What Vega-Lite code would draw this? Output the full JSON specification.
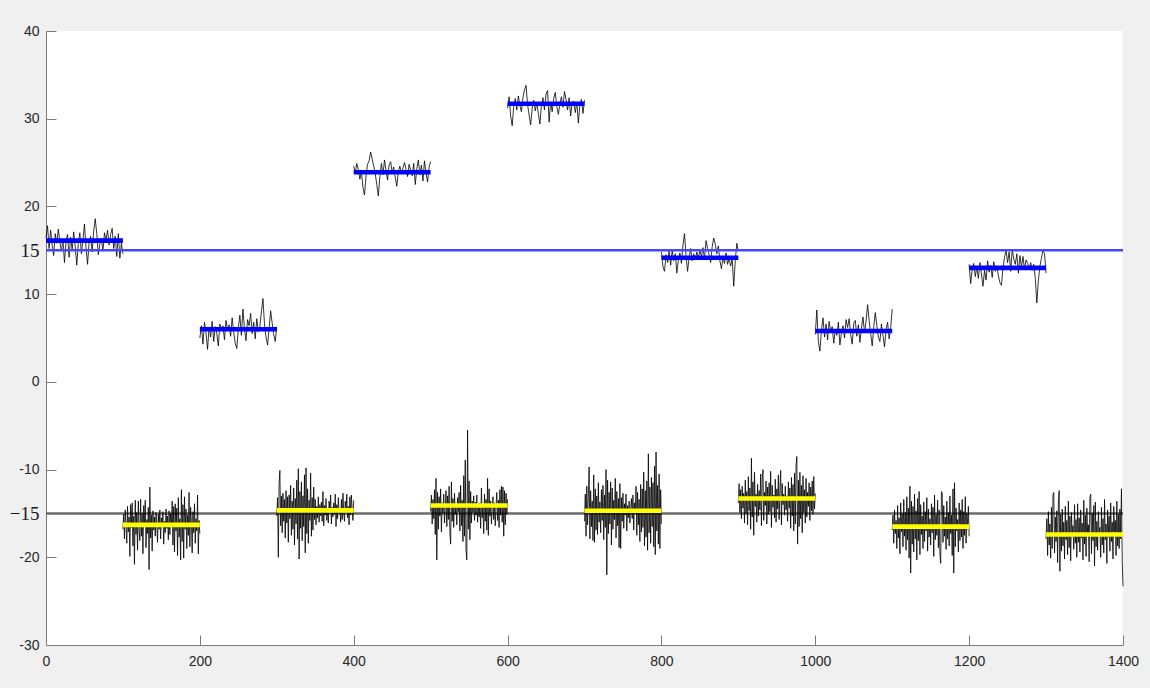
{
  "$schema": "https://vega.github.io/schema/vega-lite/v6.json",
  "width": 1077,
  "height": 614,
  "autosize": {"type": "none"},
  "padding": {"left": 46, "top": 31, "right": 27, "bottom": 43},
  "background": "#f0f0f0",
  "config": {
    "view": {"fill": "white", "stroke": null},
    "axis": {
      "grid": false,
      "domainColor": "#7a7a7a",
      "tickColor": "#7a7a7a",
      "domainWidth": 1,
      "tickWidth": 1,
      "tickSize": -10,
      "labelFont": "Liberation Sans",
      "labelFontSize": 14,
      "labelColor": "#262626",
      "title": null
    }
  },
  "datasets": {
    "noise": [
      {"s":"u0","x":0,"y":16.4},{"s":"u0","x":2,"y":17.8},{"s":"u0","x":4,"y":15.2},{"s":"u0","x":6,"y":17.3},{"s":"u0","x":8,"y":15.6},{"s":"u0","x":10,"y":14.4},{"s":"u0","x":12,"y":16.9},{"s":"u0","x":14,"y":15.8},{"s":"u0","x":16,"y":17.4},{"s":"u0","x":18,"y":16.0},{"s":"u0","x":20,"y":14.9},{"s":"u0","x":22,"y":16.3},{"s":"u0","x":24,"y":13.6},{"s":"u0","x":26,"y":15.9},{"s":"u0","x":28,"y":16.8},{"s":"u0","x":30,"y":14.2},{"s":"u0","x":32,"y":16.5},{"s":"u0","x":34,"y":15.1},{"s":"u0","x":36,"y":17.1},{"s":"u0","x":38,"y":15.4},{"s":"u0","x":40,"y":13.3},{"s":"u0","x":42,"y":15.8},{"s":"u0","x":44,"y":17.0},{"s":"u0","x":46,"y":14.6},{"s":"u0","x":48,"y":16.2},{"s":"u0","x":50,"y":18.0},{"s":"u0","x":52,"y":15.3},{"s":"u0","x":54,"y":13.4},{"s":"u0","x":56,"y":15.9},{"s":"u0","x":58,"y":16.6},{"s":"u0","x":60,"y":14.8},{"s":"u0","x":62,"y":17.2},{"s":"u0","x":64,"y":18.6},{"s":"u0","x":66,"y":16.9},{"s":"u0","x":68,"y":14.5},{"s":"u0","x":70,"y":15.7},{"s":"u0","x":72,"y":16.4},{"s":"u0","x":74,"y":14.9},{"s":"u0","x":76,"y":17.0},{"s":"u0","x":78,"y":16.1},{"s":"u0","x":80,"y":17.3},{"s":"u0","x":82,"y":15.6},{"s":"u0","x":84,"y":16.8},{"s":"u0","x":86,"y":17.5},{"s":"u0","x":88,"y":15.2},{"s":"u0","x":90,"y":16.6},{"s":"u0","x":92,"y":14.3},{"s":"u0","x":94,"y":16.9},{"s":"u0","x":96,"y":14.1},{"s":"u0","x":98,"y":15.8},{"s":"u0","x":100,"y":14.6},
      {"s":"u1","x":200,"y":5.0},{"s":"u1","x":202,"y":6.4},{"s":"u1","x":204,"y":4.3},{"s":"u1","x":206,"y":6.8},{"s":"u1","x":208,"y":5.6},{"s":"u1","x":210,"y":3.7},{"s":"u1","x":212,"y":6.2},{"s":"u1","x":214,"y":5.1},{"s":"u1","x":216,"y":6.9},{"s":"u1","x":218,"y":4.6},{"s":"u1","x":220,"y":6.3},{"s":"u1","x":222,"y":5.5},{"s":"u1","x":224,"y":4.1},{"s":"u1","x":226,"y":6.6},{"s":"u1","x":228,"y":5.8},{"s":"u1","x":230,"y":6.4},{"s":"u1","x":232,"y":4.8},{"s":"u1","x":234,"y":7.0},{"s":"u1","x":236,"y":5.9},{"s":"u1","x":238,"y":6.5},{"s":"u1","x":240,"y":5.2},{"s":"u1","x":242,"y":7.3},{"s":"u1","x":244,"y":5.6},{"s":"u1","x":246,"y":4.4},{"s":"u1","x":248,"y":3.8},{"s":"u1","x":250,"y":6.1},{"s":"u1","x":252,"y":7.6},{"s":"u1","x":254,"y":5.3},{"s":"u1","x":256,"y":8.3},{"s":"u1","x":258,"y":6.0},{"s":"u1","x":260,"y":4.7},{"s":"u1","x":262,"y":7.1},{"s":"u1","x":264,"y":6.4},{"s":"u1","x":266,"y":7.8},{"s":"u1","x":268,"y":5.5},{"s":"u1","x":270,"y":6.8},{"s":"u1","x":272,"y":4.9},{"s":"u1","x":274,"y":7.2},{"s":"u1","x":276,"y":5.7},{"s":"u1","x":278,"y":6.3},{"s":"u1","x":280,"y":8.0},{"s":"u1","x":282,"y":9.5},{"s":"u1","x":284,"y":6.6},{"s":"u1","x":286,"y":5.1},{"s":"u1","x":288,"y":4.2},{"s":"u1","x":290,"y":6.0},{"s":"u1","x":292,"y":8.1},{"s":"u1","x":294,"y":6.7},{"s":"u1","x":296,"y":5.4},{"s":"u1","x":298,"y":4.6},{"s":"u1","x":300,"y":6.3},
      {"s":"u2","x":400,"y":24.6},{"s":"u2","x":402,"y":23.8},{"s":"u2","x":404,"y":24.9},{"s":"u2","x":406,"y":24.2},{"s":"u2","x":408,"y":23.1},{"s":"u2","x":410,"y":24.0},{"s":"u2","x":412,"y":22.2},{"s":"u2","x":414,"y":21.3},{"s":"u2","x":416,"y":23.5},{"s":"u2","x":418,"y":24.8},{"s":"u2","x":420,"y":25.2},{"s":"u2","x":422,"y":26.2},{"s":"u2","x":424,"y":25.4},{"s":"u2","x":426,"y":24.6},{"s":"u2","x":428,"y":23.7},{"s":"u2","x":430,"y":22.5},{"s":"u2","x":432,"y":21.2},{"s":"u2","x":434,"y":23.4},{"s":"u2","x":436,"y":24.9},{"s":"u2","x":438,"y":23.6},{"s":"u2","x":440,"y":25.3},{"s":"u2","x":442,"y":24.1},{"s":"u2","x":444,"y":23.0},{"s":"u2","x":446,"y":24.7},{"s":"u2","x":448,"y":25.1},{"s":"u2","x":450,"y":23.9},{"s":"u2","x":452,"y":24.5},{"s":"u2","x":454,"y":23.3},{"s":"u2","x":456,"y":22.3},{"s":"u2","x":458,"y":24.0},{"s":"u2","x":460,"y":24.6},{"s":"u2","x":462,"y":23.7},{"s":"u2","x":464,"y":24.4},{"s":"u2","x":466,"y":25.0},{"s":"u2","x":468,"y":24.2},{"s":"u2","x":470,"y":23.4},{"s":"u2","x":472,"y":24.8},{"s":"u2","x":474,"y":24.1},{"s":"u2","x":476,"y":23.5},{"s":"u2","x":478,"y":24.9},{"s":"u2","x":480,"y":22.5},{"s":"u2","x":482,"y":24.3},{"s":"u2","x":484,"y":25.3},{"s":"u2","x":486,"y":23.6},{"s":"u2","x":488,"y":24.7},{"s":"u2","x":490,"y":22.9},{"s":"u2","x":492,"y":25.2},{"s":"u2","x":494,"y":23.8},{"s":"u2","x":496,"y":22.8},{"s":"u2","x":498,"y":24.5},{"s":"u2","x":500,"y":25.1},
      {"s":"u3","x":600,"y":31.2},{"s":"u3","x":602,"y":32.5},{"s":"u3","x":604,"y":30.3},{"s":"u3","x":606,"y":29.2},{"s":"u3","x":608,"y":31.4},{"s":"u3","x":610,"y":32.3},{"s":"u3","x":612,"y":31.0},{"s":"u3","x":614,"y":32.6},{"s":"u3","x":616,"y":31.5},{"s":"u3","x":618,"y":30.8},{"s":"u3","x":620,"y":32.4},{"s":"u3","x":622,"y":33.3},{"s":"u3","x":624,"y":33.8},{"s":"u3","x":626,"y":31.6},{"s":"u3","x":628,"y":30.4},{"s":"u3","x":630,"y":29.3},{"s":"u3","x":632,"y":31.2},{"s":"u3","x":634,"y":32.1},{"s":"u3","x":636,"y":30.9},{"s":"u3","x":638,"y":31.8},{"s":"u3","x":640,"y":30.6},{"s":"u3","x":642,"y":29.4},{"s":"u3","x":644,"y":31.5},{"s":"u3","x":646,"y":32.4},{"s":"u3","x":648,"y":31.0},{"s":"u3","x":650,"y":32.8},{"s":"u3","x":652,"y":33.2},{"s":"u3","x":654,"y":29.6},{"s":"u3","x":656,"y":31.9},{"s":"u3","x":658,"y":30.8},{"s":"u3","x":660,"y":32.3},{"s":"u3","x":662,"y":33.0},{"s":"u3","x":664,"y":31.4},{"s":"u3","x":666,"y":30.5},{"s":"u3","x":668,"y":31.7},{"s":"u3","x":670,"y":32.5},{"s":"u3","x":672,"y":31.3},{"s":"u3","x":674,"y":33.1},{"s":"u3","x":676,"y":32.2},{"s":"u3","x":678,"y":31.0},{"s":"u3","x":680,"y":32.4},{"s":"u3","x":682,"y":30.3},{"s":"u3","x":684,"y":31.8},{"s":"u3","x":686,"y":32.0},{"s":"u3","x":688,"y":30.7},{"s":"u3","x":690,"y":31.9},{"s":"u3","x":692,"y":29.5},{"s":"u3","x":694,"y":31.6},{"s":"u3","x":696,"y":32.2},{"s":"u3","x":698,"y":30.6},{"s":"u3","x":700,"y":32.1},
      {"s":"u4","x":800,"y":14.8},{"s":"u4","x":802,"y":13.1},{"s":"u4","x":804,"y":12.6},{"s":"u4","x":806,"y":14.5},{"s":"u4","x":808,"y":13.6},{"s":"u4","x":810,"y":14.9},{"s":"u4","x":812,"y":13.3},{"s":"u4","x":814,"y":15.0},{"s":"u4","x":816,"y":13.8},{"s":"u4","x":818,"y":14.6},{"s":"u4","x":820,"y":12.4},{"s":"u4","x":822,"y":13.9},{"s":"u4","x":824,"y":14.7},{"s":"u4","x":826,"y":13.5},{"s":"u4","x":828,"y":15.6},{"s":"u4","x":830,"y":16.9},{"s":"u4","x":832,"y":14.4},{"s":"u4","x":834,"y":12.6},{"s":"u4","x":836,"y":14.2},{"s":"u4","x":838,"y":15.2},{"s":"u4","x":840,"y":13.8},{"s":"u4","x":842,"y":14.6},{"s":"u4","x":844,"y":13.9},{"s":"u4","x":846,"y":14.8},{"s":"u4","x":848,"y":14.1},{"s":"u4","x":850,"y":15.0},{"s":"u4","x":852,"y":14.3},{"s":"u4","x":854,"y":15.3},{"s":"u4","x":856,"y":14.0},{"s":"u4","x":858,"y":16.1},{"s":"u4","x":860,"y":15.2},{"s":"u4","x":862,"y":14.5},{"s":"u4","x":864,"y":13.6},{"s":"u4","x":866,"y":15.4},{"s":"u4","x":868,"y":16.4},{"s":"u4","x":870,"y":15.7},{"s":"u4","x":872,"y":14.6},{"s":"u4","x":874,"y":15.5},{"s":"u4","x":876,"y":13.8},{"s":"u4","x":878,"y":12.9},{"s":"u4","x":880,"y":14.2},{"s":"u4","x":882,"y":13.5},{"s":"u4","x":884,"y":14.7},{"s":"u4","x":886,"y":13.4},{"s":"u4","x":888,"y":14.1},{"s":"u4","x":890,"y":13.2},{"s":"u4","x":892,"y":14.0},{"s":"u4","x":894,"y":10.9},{"s":"u4","x":896,"y":13.8},{"s":"u4","x":898,"y":15.8},{"s":"u4","x":900,"y":14.9},
      {"s":"u5","x":1000,"y":5.4},{"s":"u5","x":1002,"y":8.2},{"s":"u5","x":1004,"y":4.6},{"s":"u5","x":1006,"y":3.5},{"s":"u5","x":1008,"y":5.9},{"s":"u5","x":1010,"y":7.3},{"s":"u5","x":1012,"y":5.1},{"s":"u5","x":1014,"y":6.6},{"s":"u5","x":1016,"y":4.8},{"s":"u5","x":1018,"y":6.9},{"s":"u5","x":1020,"y":5.7},{"s":"u5","x":1022,"y":6.3},{"s":"u5","x":1024,"y":4.4},{"s":"u5","x":1026,"y":6.0},{"s":"u5","x":1028,"y":5.3},{"s":"u5","x":1030,"y":6.8},{"s":"u5","x":1032,"y":4.2},{"s":"u5","x":1034,"y":5.6},{"s":"u5","x":1036,"y":6.4},{"s":"u5","x":1038,"y":5.0},{"s":"u5","x":1040,"y":7.1},{"s":"u5","x":1042,"y":6.2},{"s":"u5","x":1044,"y":7.2},{"s":"u5","x":1046,"y":5.4},{"s":"u5","x":1048,"y":4.3},{"s":"u5","x":1050,"y":6.7},{"s":"u5","x":1052,"y":7.0},{"s":"u5","x":1054,"y":5.2},{"s":"u5","x":1056,"y":6.5},{"s":"u5","x":1058,"y":4.5},{"s":"u5","x":1060,"y":6.1},{"s":"u5","x":1062,"y":7.4},{"s":"u5","x":1064,"y":5.6},{"s":"u5","x":1066,"y":6.9},{"s":"u5","x":1068,"y":8.8},{"s":"u5","x":1070,"y":7.0},{"s":"u5","x":1072,"y":5.5},{"s":"u5","x":1074,"y":4.1},{"s":"u5","x":1076,"y":6.3},{"s":"u5","x":1078,"y":7.9},{"s":"u5","x":1080,"y":6.4},{"s":"u5","x":1082,"y":5.1},{"s":"u5","x":1084,"y":4.6},{"s":"u5","x":1086,"y":6.6},{"s":"u5","x":1088,"y":5.3},{"s":"u5","x":1090,"y":4.0},{"s":"u5","x":1092,"y":5.9},{"s":"u5","x":1094,"y":6.8},{"s":"u5","x":1096,"y":4.9},{"s":"u5","x":1098,"y":6.2},{"s":"u5","x":1100,"y":8.3},
      {"s":"u6","x":1200,"y":13.4},{"s":"u6","x":1202,"y":11.2},{"s":"u6","x":1204,"y":12.8},{"s":"u6","x":1206,"y":13.5},{"s":"u6","x":1208,"y":12.0},{"s":"u6","x":1210,"y":13.1},{"s":"u6","x":1212,"y":11.8},{"s":"u6","x":1214,"y":13.6},{"s":"u6","x":1216,"y":12.3},{"s":"u6","x":1218,"y":10.9},{"s":"u6","x":1220,"y":12.7},{"s":"u6","x":1222,"y":11.6},{"s":"u6","x":1224,"y":13.8},{"s":"u6","x":1226,"y":12.5},{"s":"u6","x":1228,"y":13.3},{"s":"u6","x":1230,"y":11.9},{"s":"u6","x":1232,"y":13.7},{"s":"u6","x":1234,"y":12.6},{"s":"u6","x":1236,"y":13.2},{"s":"u6","x":1238,"y":12.1},{"s":"u6","x":1240,"y":11.3},{"s":"u6","x":1242,"y":11.0},{"s":"u6","x":1244,"y":13.0},{"s":"u6","x":1246,"y":14.2},{"s":"u6","x":1248,"y":15.0},{"s":"u6","x":1250,"y":13.6},{"s":"u6","x":1252,"y":14.8},{"s":"u6","x":1254,"y":12.6},{"s":"u6","x":1256,"y":15.1},{"s":"u6","x":1258,"y":14.0},{"s":"u6","x":1260,"y":13.4},{"s":"u6","x":1262,"y":14.6},{"s":"u6","x":1264,"y":12.4},{"s":"u6","x":1266,"y":14.4},{"s":"u6","x":1268,"y":13.1},{"s":"u6","x":1270,"y":14.3},{"s":"u6","x":1272,"y":12.8},{"s":"u6","x":1274,"y":13.9},{"s":"u6","x":1276,"y":13.5},{"s":"u6","x":1278,"y":12.9},{"s":"u6","x":1280,"y":13.6},{"s":"u6","x":1282,"y":12.7},{"s":"u6","x":1284,"y":13.4},{"s":"u6","x":1286,"y":11.8},{"s":"u6","x":1288,"y":9.0},{"s":"u6","x":1290,"y":11.6},{"s":"u6","x":1292,"y":13.2},{"s":"u6","x":1294,"y":14.1},{"s":"u6","x":1296,"y":15.0},{"s":"u6","x":1298,"y":14.6},{"s":"u6","x":1300,"y":12.4},
      {"s":"l0","x":100,"y":-16.8},{"s":"l0","x":101,"y":-15.1},{"s":"l0","x":102,"y":-17.9},{"s":"l0","x":103,"y":-14.6},{"s":"l0","x":104,"y":-16.2},{"s":"l0","x":105,"y":-18.4},{"s":"l0","x":106,"y":-14.2},{"s":"l0","x":107,"y":-17.1},{"s":"l0","x":108,"y":-15.4},{"s":"l0","x":109,"y":-19.9},{"s":"l0","x":110,"y":-14.0},{"s":"l0","x":111,"y":-16.6},{"s":"l0","x":112,"y":-13.8},{"s":"l0","x":113,"y":-18.7},{"s":"l0","x":114,"y":-15.3},{"s":"l0","x":115,"y":-20.8},{"s":"l0","x":116,"y":-13.5},{"s":"l0","x":117,"y":-17.4},{"s":"l0","x":118,"y":-14.9},{"s":"l0","x":119,"y":-19.2},{"s":"l0","x":120,"y":-13.6},{"s":"l0","x":121,"y":-16.9},{"s":"l0","x":122,"y":-18.1},{"s":"l0","x":123,"y":-13.4},{"s":"l0","x":124,"y":-17.6},{"s":"l0","x":125,"y":-15.0},{"s":"l0","x":126,"y":-19.6},{"s":"l0","x":127,"y":-14.1},{"s":"l0","x":128,"y":-16.4},{"s":"l0","x":129,"y":-13.5},{"s":"l0","x":130,"y":-18.9},{"s":"l0","x":131,"y":-15.7},{"s":"l0","x":132,"y":-17.3},{"s":"l0","x":133,"y":-14.3},{"s":"l0","x":134,"y":-21.4},{"s":"l0","x":135,"y":-12.0},{"s":"l0","x":136,"y":-17.8},{"s":"l0","x":137,"y":-15.2},{"s":"l0","x":138,"y":-19.3},{"s":"l0","x":139,"y":-14.7},{"s":"l0","x":140,"y":-16.9},{"s":"l0","x":141,"y":-15.4},{"s":"l0","x":142,"y":-17.6},{"s":"l0","x":143,"y":-14.9},{"s":"l0","x":144,"y":-16.2},{"s":"l0","x":145,"y":-18.3},{"s":"l0","x":146,"y":-15.1},{"s":"l0","x":147,"y":-16.8},{"s":"l0","x":148,"y":-14.6},{"s":"l0","x":149,"y":-17.9},{"s":"l0","x":150,"y":-15.5},{"s":"l0","x":151,"y":-16.3},{"s":"l0","x":152,"y":-14.8},{"s":"l0","x":153,"y":-18.5},{"s":"l0","x":154,"y":-15.9},{"s":"l0","x":155,"y":-17.2},{"s":"l0","x":156,"y":-14.5},{"s":"l0","x":157,"y":-16.7},{"s":"l0","x":158,"y":-15.3},{"s":"l0","x":159,"y":-18.0},{"s":"l0","x":160,"y":-14.7},{"s":"l0","x":161,"y":-17.4},{"s":"l0","x":162,"y":-15.0},{"s":"l0","x":163,"y":-16.5},{"s":"l0","x":164,"y":-13.6},{"s":"l0","x":165,"y":-18.6},{"s":"l0","x":166,"y":-14.2},{"s":"l0","x":167,"y":-19.4},{"s":"l0","x":168,"y":-13.9},{"s":"l0","x":169,"y":-17.0},{"s":"l0","x":170,"y":-14.4},{"s":"l0","x":171,"y":-19.8},{"s":"l0","x":172,"y":-13.2},{"s":"l0","x":173,"y":-17.7},{"s":"l0","x":174,"y":-15.6},{"s":"l0","x":175,"y":-20.3},{"s":"l0","x":176,"y":-12.3},{"s":"l0","x":177,"y":-18.2},{"s":"l0","x":178,"y":-14.0},{"s":"l0","x":179,"y":-20.1},{"s":"l0","x":180,"y":-13.1},{"s":"l0","x":181,"y":-16.8},{"s":"l0","x":182,"y":-14.5},{"s":"l0","x":183,"y":-19.0},{"s":"l0","x":184,"y":-15.2},{"s":"l0","x":185,"y":-17.5},{"s":"l0","x":186,"y":-12.6},{"s":"l0","x":187,"y":-18.8},{"s":"l0","x":188,"y":-14.3},{"s":"l0","x":189,"y":-16.1},{"s":"l0","x":190,"y":-19.5},{"s":"l0","x":191,"y":-14.8},{"s":"l0","x":192,"y":-17.2},{"s":"l0","x":193,"y":-13.9},{"s":"l0","x":194,"y":-18.4},{"s":"l0","x":195,"y":-15.6},{"s":"l0","x":196,"y":-17.0},{"s":"l0","x":197,"y":-12.9},{"s":"l0","x":198,"y":-19.6},{"s":"l0","x":199,"y":-15.8},{"s":"l0","x":200,"y":-17.3},
      {"s":"l1","x":300,"y":-15.3},{"s":"l1","x":301,"y":-13.2},{"s":"l1","x":302,"y":-20.0},{"s":"l1","x":303,"y":-11.6},{"s":"l1","x":304,"y":-10.1},{"s":"l1","x":305,"y":-16.4},{"s":"l1","x":306,"y":-13.0},{"s":"l1","x":307,"y":-17.2},{"s":"l1","x":308,"y":-12.7},{"s":"l1","x":309,"y":-15.9},{"s":"l1","x":310,"y":-13.4},{"s":"l1","x":311,"y":-17.8},{"s":"l1","x":312,"y":-12.4},{"s":"l1","x":313,"y":-16.1},{"s":"l1","x":314,"y":-13.1},{"s":"l1","x":315,"y":-18.3},{"s":"l1","x":316,"y":-12.9},{"s":"l1","x":317,"y":-15.6},{"s":"l1","x":318,"y":-11.8},{"s":"l1","x":319,"y":-17.5},{"s":"l1","x":320,"y":-13.6},{"s":"l1","x":321,"y":-16.8},{"s":"l1","x":322,"y":-12.1},{"s":"l1","x":323,"y":-18.6},{"s":"l1","x":324,"y":-13.3},{"s":"l1","x":325,"y":-16.2},{"s":"l1","x":326,"y":-11.2},{"s":"l1","x":327,"y":-17.9},{"s":"l1","x":328,"y":-9.9},{"s":"l1","x":329,"y":-20.2},{"s":"l1","x":330,"y":-12.5},{"s":"l1","x":331,"y":-16.7},{"s":"l1","x":332,"y":-11.4},{"s":"l1","x":333,"y":-18.1},{"s":"l1","x":334,"y":-13.0},{"s":"l1","x":335,"y":-16.5},{"s":"l1","x":336,"y":-10.6},{"s":"l1","x":337,"y":-19.5},{"s":"l1","x":338,"y":-9.8},{"s":"l1","x":339,"y":-17.3},{"s":"l1","x":340,"y":-12.2},{"s":"l1","x":341,"y":-18.4},{"s":"l1","x":342,"y":-13.5},{"s":"l1","x":343,"y":-15.8},{"s":"l1","x":344,"y":-10.4},{"s":"l1","x":345,"y":-17.6},{"s":"l1","x":346,"y":-13.2},{"s":"l1","x":347,"y":-16.9},{"s":"l1","x":348,"y":-12.0},{"s":"l1","x":349,"y":-15.7},{"s":"l1","x":350,"y":-13.4},{"s":"l1","x":351,"y":-16.3},{"s":"l1","x":352,"y":-14.2},{"s":"l1","x":353,"y":-15.5},{"s":"l1","x":354,"y":-13.1},{"s":"l1","x":355,"y":-16.0},{"s":"l1","x":356,"y":-14.0},{"s":"l1","x":357,"y":-15.3},{"s":"l1","x":358,"y":-13.7},{"s":"l1","x":359,"y":-15.9},{"s":"l1","x":360,"y":-12.5},{"s":"l1","x":361,"y":-16.4},{"s":"l1","x":362,"y":-14.1},{"s":"l1","x":363,"y":-15.2},{"s":"l1","x":364,"y":-13.3},{"s":"l1","x":365,"y":-15.8},{"s":"l1","x":366,"y":-14.4},{"s":"l1","x":367,"y":-16.1},{"s":"l1","x":368,"y":-13.6},{"s":"l1","x":369,"y":-14.9},{"s":"l1","x":370,"y":-12.9},{"s":"l1","x":371,"y":-16.2},{"s":"l1","x":372,"y":-14.3},{"s":"l1","x":373,"y":-15.4},{"s":"l1","x":374,"y":-13.8},{"s":"l1","x":375,"y":-15.1},{"s":"l1","x":376,"y":-12.8},{"s":"l1","x":377,"y":-16.5},{"s":"l1","x":378,"y":-14.0},{"s":"l1","x":379,"y":-15.6},{"s":"l1","x":380,"y":-13.2},{"s":"l1","x":381,"y":-15.0},{"s":"l1","x":382,"y":-14.5},{"s":"l1","x":383,"y":-16.0},{"s":"l1","x":384,"y":-13.4},{"s":"l1","x":385,"y":-15.7},{"s":"l1","x":386,"y":-12.7},{"s":"l1","x":387,"y":-14.8},{"s":"l1","x":388,"y":-15.9},{"s":"l1","x":389,"y":-13.6},{"s":"l1","x":390,"y":-14.9},{"s":"l1","x":391,"y":-12.8},{"s":"l1","x":392,"y":-15.5},{"s":"l1","x":393,"y":-14.2},{"s":"l1","x":394,"y":-16.3},{"s":"l1","x":395,"y":-13.1},{"s":"l1","x":396,"y":-15.2},{"s":"l1","x":397,"y":-12.9},{"s":"l1","x":398,"y":-14.7},{"s":"l1","x":399,"y":-15.8},{"s":"l1","x":400,"y":-13.5},
      {"s":"l2","x":500,"y":-14.8},{"s":"l2","x":501,"y":-12.9},{"s":"l2","x":502,"y":-16.2},{"s":"l2","x":503,"y":-13.4},{"s":"l2","x":504,"y":-15.6},{"s":"l2","x":505,"y":-12.3},{"s":"l2","x":506,"y":-17.4},{"s":"l2","x":507,"y":-11.0},{"s":"l2","x":508,"y":-20.3},{"s":"l2","x":509,"y":-12.6},{"s":"l2","x":510,"y":-16.8},{"s":"l2","x":511,"y":-13.1},{"s":"l2","x":512,"y":-15.3},{"s":"l2","x":513,"y":-12.2},{"s":"l2","x":514,"y":-17.1},{"s":"l2","x":515,"y":-13.8},{"s":"l2","x":516,"y":-15.0},{"s":"l2","x":517,"y":-12.8},{"s":"l2","x":518,"y":-16.1},{"s":"l2","x":519,"y":-14.2},{"s":"l2","x":520,"y":-12.4},{"s":"l2","x":521,"y":-16.5},{"s":"l2","x":522,"y":-13.0},{"s":"l2","x":523,"y":-15.7},{"s":"l2","x":524,"y":-11.9},{"s":"l2","x":525,"y":-17.2},{"s":"l2","x":526,"y":-18.5},{"s":"l2","x":527,"y":-11.4},{"s":"l2","x":528,"y":-15.9},{"s":"l2","x":529,"y":-13.3},{"s":"l2","x":530,"y":-16.6},{"s":"l2","x":531,"y":-12.7},{"s":"l2","x":532,"y":-15.1},{"s":"l2","x":533,"y":-13.9},{"s":"l2","x":534,"y":-16.3},{"s":"l2","x":535,"y":-13.2},{"s":"l2","x":536,"y":-14.8},{"s":"l2","x":537,"y":-12.6},{"s":"l2","x":538,"y":-17.0},{"s":"l2","x":539,"y":-11.8},{"s":"l2","x":540,"y":-16.4},{"s":"l2","x":541,"y":-13.5},{"s":"l2","x":542,"y":-18.2},{"s":"l2","x":543,"y":-10.7},{"s":"l2","x":544,"y":-17.6},{"s":"l2","x":545,"y":-8.9},{"s":"l2","x":546,"y":-19.1},{"s":"l2","x":547,"y":-20.3},{"s":"l2","x":548,"y":-5.5},{"s":"l2","x":549,"y":-16.8},{"s":"l2","x":550,"y":-11.3},{"s":"l2","x":551,"y":-18.0},{"s":"l2","x":552,"y":-12.5},{"s":"l2","x":553,"y":-16.1},{"s":"l2","x":554,"y":-13.6},{"s":"l2","x":555,"y":-14.9},{"s":"l2","x":556,"y":-13.0},{"s":"l2","x":557,"y":-15.8},{"s":"l2","x":558,"y":-13.7},{"s":"l2","x":559,"y":-15.2},{"s":"l2","x":560,"y":-12.9},{"s":"l2","x":561,"y":-16.0},{"s":"l2","x":562,"y":-14.3},{"s":"l2","x":563,"y":-15.4},{"s":"l2","x":564,"y":-13.8},{"s":"l2","x":565,"y":-16.7},{"s":"l2","x":566,"y":-12.1},{"s":"l2","x":567,"y":-15.5},{"s":"l2","x":568,"y":-14.0},{"s":"l2","x":569,"y":-17.3},{"s":"l2","x":570,"y":-12.8},{"s":"l2","x":571,"y":-15.9},{"s":"l2","x":572,"y":-13.4},{"s":"l2","x":573,"y":-16.9},{"s":"l2","x":574,"y":-11.0},{"s":"l2","x":575,"y":-17.5},{"s":"l2","x":576,"y":-12.2},{"s":"l2","x":577,"y":-15.3},{"s":"l2","x":578,"y":-13.6},{"s":"l2","x":579,"y":-16.2},{"s":"l2","x":580,"y":-14.4},{"s":"l2","x":581,"y":-13.1},{"s":"l2","x":582,"y":-15.7},{"s":"l2","x":583,"y":-13.8},{"s":"l2","x":584,"y":-16.4},{"s":"l2","x":585,"y":-14.1},{"s":"l2","x":586,"y":-12.6},{"s":"l2","x":587,"y":-15.8},{"s":"l2","x":588,"y":-13.5},{"s":"l2","x":589,"y":-16.6},{"s":"l2","x":590,"y":-12.3},{"s":"l2","x":591,"y":-15.2},{"s":"l2","x":592,"y":-11.9},{"s":"l2","x":593,"y":-16.0},{"s":"l2","x":594,"y":-12.0},{"s":"l2","x":595,"y":-17.6},{"s":"l2","x":596,"y":-12.4},{"s":"l2","x":597,"y":-16.3},{"s":"l2","x":598,"y":-12.7},{"s":"l2","x":599,"y":-15.1},{"s":"l2","x":600,"y":-13.4},
      {"s":"l3","x":700,"y":-15.9},{"s":"l3","x":701,"y":-12.8},{"s":"l3","x":702,"y":-17.6},{"s":"l3","x":703,"y":-11.9},{"s":"l3","x":704,"y":-16.3},{"s":"l3","x":705,"y":-13.1},{"s":"l3","x":706,"y":-9.7},{"s":"l3","x":707,"y":-17.9},{"s":"l3","x":708,"y":-12.4},{"s":"l3","x":709,"y":-16.5},{"s":"l3","x":710,"y":-13.6},{"s":"l3","x":711,"y":-18.1},{"s":"l3","x":712,"y":-10.6},{"s":"l3","x":713,"y":-18.3},{"s":"l3","x":714,"y":-12.2},{"s":"l3","x":715,"y":-16.9},{"s":"l3","x":716,"y":-13.0},{"s":"l3","x":717,"y":-17.4},{"s":"l3","x":718,"y":-11.5},{"s":"l3","x":719,"y":-16.0},{"s":"l3","x":720,"y":-13.7},{"s":"l3","x":721,"y":-17.2},{"s":"l3","x":722,"y":-12.3},{"s":"l3","x":723,"y":-15.8},{"s":"l3","x":724,"y":-11.8},{"s":"l3","x":725,"y":-18.0},{"s":"l3","x":726,"y":-12.9},{"s":"l3","x":727,"y":-16.6},{"s":"l3","x":728,"y":-10.0},{"s":"l3","x":729,"y":-22.0},{"s":"l3","x":730,"y":-11.2},{"s":"l3","x":731,"y":-17.3},{"s":"l3","x":732,"y":-12.6},{"s":"l3","x":733,"y":-16.2},{"s":"l3","x":734,"y":-11.4},{"s":"l3","x":735,"y":-18.6},{"s":"l3","x":736,"y":-12.1},{"s":"l3","x":737,"y":-16.8},{"s":"l3","x":738,"y":-13.5},{"s":"l3","x":739,"y":-15.7},{"s":"l3","x":740,"y":-11.0},{"s":"l3","x":741,"y":-17.8},{"s":"l3","x":742,"y":-12.5},{"s":"l3","x":743,"y":-16.4},{"s":"l3","x":744,"y":-13.3},{"s":"l3","x":745,"y":-18.9},{"s":"l3","x":746,"y":-11.6},{"s":"l3","x":747,"y":-19.0},{"s":"l3","x":748,"y":-13.2},{"s":"l3","x":749,"y":-15.9},{"s":"l3","x":750,"y":-12.7},{"s":"l3","x":751,"y":-16.7},{"s":"l3","x":752,"y":-13.9},{"s":"l3","x":753,"y":-15.2},{"s":"l3","x":754,"y":-12.8},{"s":"l3","x":755,"y":-17.0},{"s":"l3","x":756,"y":-14.1},{"s":"l3","x":757,"y":-15.5},{"s":"l3","x":758,"y":-13.6},{"s":"l3","x":759,"y":-16.1},{"s":"l3","x":760,"y":-14.5},{"s":"l3","x":761,"y":-13.3},{"s":"l3","x":762,"y":-15.6},{"s":"l3","x":763,"y":-12.9},{"s":"l3","x":764,"y":-16.9},{"s":"l3","x":765,"y":-13.8},{"s":"l3","x":766,"y":-15.0},{"s":"l3","x":767,"y":-11.9},{"s":"l3","x":768,"y":-17.5},{"s":"l3","x":769,"y":-12.6},{"s":"l3","x":770,"y":-16.3},{"s":"l3","x":771,"y":-13.4},{"s":"l3","x":772,"y":-18.2},{"s":"l3","x":773,"y":-11.7},{"s":"l3","x":774,"y":-17.1},{"s":"l3","x":775,"y":-12.2},{"s":"l3","x":776,"y":-16.6},{"s":"l3","x":777,"y":-10.3},{"s":"l3","x":778,"y":-18.7},{"s":"l3","x":779,"y":-12.4},{"s":"l3","x":780,"y":-17.7},{"s":"l3","x":781,"y":-11.3},{"s":"l3","x":782,"y":-19.2},{"s":"l3","x":783,"y":-8.2},{"s":"l3","x":784,"y":-17.2},{"s":"l3","x":785,"y":-12.0},{"s":"l3","x":786,"y":-18.4},{"s":"l3","x":787,"y":-10.9},{"s":"l3","x":788,"y":-16.5},{"s":"l3","x":789,"y":-11.5},{"s":"l3","x":790,"y":-18.8},{"s":"l3","x":791,"y":-9.6},{"s":"l3","x":792,"y":-19.7},{"s":"l3","x":793,"y":-8.0},{"s":"l3","x":794,"y":-17.0},{"s":"l3","x":795,"y":-11.8},{"s":"l3","x":796,"y":-18.5},{"s":"l3","x":797,"y":-10.5},{"s":"l3","x":798,"y":-19.0},{"s":"l3","x":799,"y":-12.3},{"s":"l3","x":800,"y":-16.2},
      {"s":"l4","x":900,"y":-13.8},{"s":"l4","x":901,"y":-11.6},{"s":"l4","x":902,"y":-14.9},{"s":"l4","x":903,"y":-12.3},{"s":"l4","x":904,"y":-15.6},{"s":"l4","x":905,"y":-11.9},{"s":"l4","x":906,"y":-14.4},{"s":"l4","x":907,"y":-12.7},{"s":"l4","x":908,"y":-16.1},{"s":"l4","x":909,"y":-11.2},{"s":"l4","x":910,"y":-15.0},{"s":"l4","x":911,"y":-12.5},{"s":"l4","x":912,"y":-16.3},{"s":"l4","x":913,"y":-10.8},{"s":"l4","x":914,"y":-14.7},{"s":"l4","x":915,"y":-12.1},{"s":"l4","x":916,"y":-16.8},{"s":"l4","x":917,"y":-8.7},{"s":"l4","x":918,"y":-15.4},{"s":"l4","x":919,"y":-11.4},{"s":"l4","x":920,"y":-17.5},{"s":"l4","x":921,"y":-10.3},{"s":"l4","x":922,"y":-14.2},{"s":"l4","x":923,"y":-12.8},{"s":"l4","x":924,"y":-16.0},{"s":"l4","x":925,"y":-11.7},{"s":"l4","x":926,"y":-15.3},{"s":"l4","x":927,"y":-12.4},{"s":"l4","x":928,"y":-14.6},{"s":"l4","x":929,"y":-10.5},{"s":"l4","x":930,"y":-16.4},{"s":"l4","x":931,"y":-11.0},{"s":"l4","x":932,"y":-10.0},{"s":"l4","x":933,"y":-15.8},{"s":"l4","x":934,"y":-12.6},{"s":"l4","x":935,"y":-14.1},{"s":"l4","x":936,"y":-11.3},{"s":"l4","x":937,"y":-16.2},{"s":"l4","x":938,"y":-12.0},{"s":"l4","x":939,"y":-15.1},{"s":"l4","x":940,"y":-11.5},{"s":"l4","x":941,"y":-14.8},{"s":"l4","x":942,"y":-10.2},{"s":"l4","x":943,"y":-16.6},{"s":"l4","x":944,"y":-11.8},{"s":"l4","x":945,"y":-14.3},{"s":"l4","x":946,"y":-12.9},{"s":"l4","x":947,"y":-15.5},{"s":"l4","x":948,"y":-11.1},{"s":"l4","x":949,"y":-16.0},{"s":"l4","x":950,"y":-12.2},{"s":"l4","x":951,"y":-14.5},{"s":"l4","x":952,"y":-10.6},{"s":"l4","x":953,"y":-15.7},{"s":"l4","x":954,"y":-12.4},{"s":"l4","x":955,"y":-10.1},{"s":"l4","x":956,"y":-16.3},{"s":"l4","x":957,"y":-11.6},{"s":"l4","x":958,"y":-14.0},{"s":"l4","x":959,"y":-12.8},{"s":"l4","x":960,"y":-15.2},{"s":"l4","x":961,"y":-11.9},{"s":"l4","x":962,"y":-14.6},{"s":"l4","x":963,"y":-13.0},{"s":"l4","x":964,"y":-15.9},{"s":"l4","x":965,"y":-11.4},{"s":"l4","x":966,"y":-14.4},{"s":"l4","x":967,"y":-12.1},{"s":"l4","x":968,"y":-16.7},{"s":"l4","x":969,"y":-10.9},{"s":"l4","x":970,"y":-15.3},{"s":"l4","x":971,"y":-11.7},{"s":"l4","x":972,"y":-17.0},{"s":"l4","x":973,"y":-10.4},{"s":"l4","x":974,"y":-16.2},{"s":"l4","x":975,"y":-9.6},{"s":"l4","x":976,"y":-8.5},{"s":"l4","x":977,"y":-18.5},{"s":"l4","x":978,"y":-11.2},{"s":"l4","x":979,"y":-16.5},{"s":"l4","x":980,"y":-10.3},{"s":"l4","x":981,"y":-15.6},{"s":"l4","x":982,"y":-11.8},{"s":"l4","x":983,"y":-17.2},{"s":"l4","x":984,"y":-10.7},{"s":"l4","x":985,"y":-14.9},{"s":"l4","x":986,"y":-12.3},{"s":"l4","x":987,"y":-16.1},{"s":"l4","x":988,"y":-11.0},{"s":"l4","x":989,"y":-15.4},{"s":"l4","x":990,"y":-12.6},{"s":"l4","x":991,"y":-14.2},{"s":"l4","x":992,"y":-11.5},{"s":"l4","x":993,"y":-15.8},{"s":"l4","x":994,"y":-12.0},{"s":"l4","x":995,"y":-14.7},{"s":"l4","x":996,"y":-11.3},{"s":"l4","x":997,"y":-15.1},{"s":"l4","x":998,"y":-10.8},{"s":"l4","x":999,"y":-14.5},{"s":"l4","x":1000,"y":-12.7},
      {"s":"l5","x":1100,"y":-16.9},{"s":"l5","x":1101,"y":-15.2},{"s":"l5","x":1102,"y":-18.4},{"s":"l5","x":1103,"y":-14.6},{"s":"l5","x":1104,"y":-17.3},{"s":"l5","x":1105,"y":-15.8},{"s":"l5","x":1106,"y":-19.0},{"s":"l5","x":1107,"y":-14.1},{"s":"l5","x":1108,"y":-17.8},{"s":"l5","x":1109,"y":-15.5},{"s":"l5","x":1110,"y":-19.6},{"s":"l5","x":1111,"y":-13.8},{"s":"l5","x":1112,"y":-17.1},{"s":"l5","x":1113,"y":-15.0},{"s":"l5","x":1114,"y":-18.8},{"s":"l5","x":1115,"y":-13.4},{"s":"l5","x":1116,"y":-17.6},{"s":"l5","x":1117,"y":-14.9},{"s":"l5","x":1118,"y":-19.2},{"s":"l5","x":1119,"y":-13.1},{"s":"l5","x":1120,"y":-18.0},{"s":"l5","x":1121,"y":-14.4},{"s":"l5","x":1122,"y":-20.1},{"s":"l5","x":1123,"y":-11.9},{"s":"l5","x":1124,"y":-21.8},{"s":"l5","x":1125,"y":-13.6},{"s":"l5","x":1126,"y":-18.5},{"s":"l5","x":1127,"y":-14.2},{"s":"l5","x":1128,"y":-19.4},{"s":"l5","x":1129,"y":-12.8},{"s":"l5","x":1130,"y":-17.9},{"s":"l5","x":1131,"y":-14.7},{"s":"l5","x":1132,"y":-20.3},{"s":"l5","x":1133,"y":-13.3},{"s":"l5","x":1134,"y":-18.1},{"s":"l5","x":1135,"y":-12.5},{"s":"l5","x":1136,"y":-19.7},{"s":"l5","x":1137,"y":-14.0},{"s":"l5","x":1138,"y":-17.4},{"s":"l5","x":1139,"y":-15.3},{"s":"l5","x":1140,"y":-19.0},{"s":"l5","x":1141,"y":-13.7},{"s":"l5","x":1142,"y":-18.2},{"s":"l5","x":1143,"y":-14.8},{"s":"l5","x":1144,"y":-17.0},{"s":"l5","x":1145,"y":-13.2},{"s":"l5","x":1146,"y":-19.3},{"s":"l5","x":1147,"y":-14.5},{"s":"l5","x":1148,"y":-17.7},{"s":"l5","x":1149,"y":-15.6},{"s":"l5","x":1150,"y":-18.6},{"s":"l5","x":1151,"y":-13.9},{"s":"l5","x":1152,"y":-17.2},{"s":"l5","x":1153,"y":-14.3},{"s":"l5","x":1154,"y":-19.9},{"s":"l5","x":1155,"y":-12.9},{"s":"l5","x":1156,"y":-18.0},{"s":"l5","x":1157,"y":-15.1},{"s":"l5","x":1158,"y":-17.5},{"s":"l5","x":1159,"y":-13.5},{"s":"l5","x":1160,"y":-18.9},{"s":"l5","x":1161,"y":-14.6},{"s":"l5","x":1162,"y":-19.5},{"s":"l5","x":1163,"y":-20.7},{"s":"l5","x":1164,"y":-12.5},{"s":"l5","x":1165,"y":-12.7},{"s":"l5","x":1166,"y":-18.3},{"s":"l5","x":1167,"y":-14.1},{"s":"l5","x":1168,"y":-17.6},{"s":"l5","x":1169,"y":-15.4},{"s":"l5","x":1170,"y":-19.1},{"s":"l5","x":1171,"y":-13.6},{"s":"l5","x":1172,"y":-17.9},{"s":"l5","x":1173,"y":-14.9},{"s":"l5","x":1174,"y":-18.7},{"s":"l5","x":1175,"y":-13.0},{"s":"l5","x":1176,"y":-17.3},{"s":"l5","x":1177,"y":-15.2},{"s":"l5","x":1178,"y":-19.8},{"s":"l5","x":1179,"y":-12.2},{"s":"l5","x":1180,"y":-21.8},{"s":"l5","x":1181,"y":-11.5},{"s":"l5","x":1182,"y":-18.8},{"s":"l5","x":1183,"y":-14.4},{"s":"l5","x":1184,"y":-17.0},{"s":"l5","x":1185,"y":-15.7},{"s":"l5","x":1186,"y":-19.4},{"s":"l5","x":1187,"y":-13.8},{"s":"l5","x":1188,"y":-18.1},{"s":"l5","x":1189,"y":-14.6},{"s":"l5","x":1190,"y":-17.7},{"s":"l5","x":1191,"y":-13.4},{"s":"l5","x":1192,"y":-19.0},{"s":"l5","x":1193,"y":-14.8},{"s":"l5","x":1194,"y":-17.5},{"s":"l5","x":1195,"y":-13.1},{"s":"l5","x":1196,"y":-18.4},{"s":"l5","x":1197,"y":-15.0},{"s":"l5","x":1198,"y":-16.8},{"s":"l5","x":1199,"y":-14.2},{"s":"l5","x":1200,"y":-17.6},
      {"s":"l6","x":1300,"y":-17.9},{"s":"l6","x":1301,"y":-15.6},{"s":"l6","x":1302,"y":-19.8},{"s":"l6","x":1303,"y":-14.8},{"s":"l6","x":1304,"y":-18.6},{"s":"l6","x":1305,"y":-16.2},{"s":"l6","x":1306,"y":-20.1},{"s":"l6","x":1307,"y":-14.3},{"s":"l6","x":1308,"y":-19.0},{"s":"l6","x":1309,"y":-12.9},{"s":"l6","x":1310,"y":-12.6},{"s":"l6","x":1311,"y":-19.5},{"s":"l6","x":1312,"y":-15.4},{"s":"l6","x":1313,"y":-18.2},{"s":"l6","x":1314,"y":-14.7},{"s":"l6","x":1315,"y":-20.6},{"s":"l6","x":1316,"y":-13.8},{"s":"l6","x":1317,"y":-12.4},{"s":"l6","x":1318,"y":-21.6},{"s":"l6","x":1319,"y":-15.1},{"s":"l6","x":1320,"y":-19.3},{"s":"l6","x":1321,"y":-14.5},{"s":"l6","x":1322,"y":-18.7},{"s":"l6","x":1323,"y":-16.0},{"s":"l6","x":1324,"y":-20.2},{"s":"l6","x":1325,"y":-14.2},{"s":"l6","x":1326,"y":-18.0},{"s":"l6","x":1327,"y":-15.8},{"s":"l6","x":1328,"y":-19.7},{"s":"l6","x":1329,"y":-13.6},{"s":"l6","x":1330,"y":-18.9},{"s":"l6","x":1331,"y":-15.3},{"s":"l6","x":1332,"y":-20.4},{"s":"l6","x":1333,"y":-14.9},{"s":"l6","x":1334,"y":-17.6},{"s":"l6","x":1335,"y":-16.4},{"s":"l6","x":1336,"y":-19.1},{"s":"l6","x":1337,"y":-14.0},{"s":"l6","x":1338,"y":-18.4},{"s":"l6","x":1339,"y":-15.7},{"s":"l6","x":1340,"y":-20.0},{"s":"l6","x":1341,"y":-13.9},{"s":"l6","x":1342,"y":-18.3},{"s":"l6","x":1343,"y":-15.5},{"s":"l6","x":1344,"y":-19.4},{"s":"l6","x":1345,"y":-14.6},{"s":"l6","x":1346,"y":-17.8},{"s":"l6","x":1347,"y":-16.1},{"s":"l6","x":1348,"y":-20.3},{"s":"l6","x":1349,"y":-13.5},{"s":"l6","x":1350,"y":-18.5},{"s":"l6","x":1351,"y":-15.2},{"s":"l6","x":1352,"y":-19.9},{"s":"l6","x":1353,"y":-14.4},{"s":"l6","x":1354,"y":-17.2},{"s":"l6","x":1355,"y":-16.3},{"s":"l6","x":1356,"y":-20.5},{"s":"l6","x":1357,"y":-13.2},{"s":"l6","x":1358,"y":-12.8},{"s":"l6","x":1359,"y":-19.6},{"s":"l6","x":1360,"y":-15.0},{"s":"l6","x":1361,"y":-18.1},{"s":"l6","x":1362,"y":-14.1},{"s":"l6","x":1363,"y":-21.0},{"s":"l6","x":1364,"y":-13.7},{"s":"l6","x":1365,"y":-18.8},{"s":"l6","x":1366,"y":-15.9},{"s":"l6","x":1367,"y":-19.2},{"s":"l6","x":1368,"y":-14.8},{"s":"l6","x":1369,"y":-17.4},{"s":"l6","x":1370,"y":-16.6},{"s":"l6","x":1371,"y":-20.0},{"s":"l6","x":1372,"y":-14.3},{"s":"l6","x":1373,"y":-18.6},{"s":"l6","x":1374,"y":-15.6},{"s":"l6","x":1375,"y":-19.5},{"s":"l6","x":1376,"y":-13.4},{"s":"l6","x":1377,"y":-18.0},{"s":"l6","x":1378,"y":-16.2},{"s":"l6","x":1379,"y":-20.7},{"s":"l6","x":1380,"y":-14.6},{"s":"l6","x":1381,"y":-17.7},{"s":"l6","x":1382,"y":-15.3},{"s":"l6","x":1383,"y":-19.3},{"s":"l6","x":1384,"y":-13.8},{"s":"l6","x":1385,"y":-18.2},{"s":"l6","x":1386,"y":-16.0},{"s":"l6","x":1387,"y":-20.2},{"s":"l6","x":1388,"y":-14.2},{"s":"l6","x":1389,"y":-17.1},{"s":"l6","x":1390,"y":-15.8},{"s":"l6","x":1391,"y":-19.8},{"s":"l6","x":1392,"y":-13.6},{"s":"l6","x":1393,"y":-18.7},{"s":"l6","x":1394,"y":-15.1},{"s":"l6","x":1395,"y":-19.0},{"s":"l6","x":1396,"y":-14.5},{"s":"l6","x":1397,"y":-17.9},{"s":"l6","x":1398,"y":-12.2},{"s":"l6","x":1399,"y":-20.4},{"s":"l6","x":1400,"y":-23.3}
    ],
    "means": [
      {"g":"upper","x0":0,"x1":100,"m":16.1},
      {"g":"upper","x0":200,"x1":300,"m":6.0},
      {"g":"upper","x0":400,"x1":500,"m":23.9},
      {"g":"upper","x0":600,"x1":700,"m":31.7},
      {"g":"upper","x0":800,"x1":900,"m":14.15},
      {"g":"upper","x0":1000,"x1":1100,"m":5.8},
      {"g":"upper","x0":1200,"x1":1300,"m":13.0},
      {"g":"lower","x0":100,"x1":200,"m":-16.3},
      {"g":"lower","x0":300,"x1":400,"m":-14.65},
      {"g":"lower","x0":500,"x1":600,"m":-14.1},
      {"g":"lower","x0":700,"x1":800,"m":-14.7},
      {"g":"lower","x0":900,"x1":1000,"m":-13.3},
      {"g":"lower","x0":1100,"x1":1200,"m":-16.5},
      {"g":"lower","x0":1300,"x1":1400,"m":-17.4}
    ],
    "levels": [
      {"lvl":-15,"k":"lower"},
      {"lvl":15,"k":"upper"}
    ]
  },
  "layer": [
    {
      "data": {"name": "levels"},
      "transform": [{"filter": "datum.k == 'lower'"}],
      "mark": {"type": "rule", "color": "#6b6b6b", "strokeWidth": 2.6},
      "encoding": {"y": {"field": "lvl", "type": "quantitative"}}
    },
    {
      "data": {"name": "noise"},
      "mark": {"type": "line", "color": "black", "strokeWidth": 0.8, "interpolate": "linear"},
      "encoding": {
        "x": {
          "field": "x",
          "type": "quantitative",
          "scale": {"domain": [0, 1400], "nice": false, "zero": false},
          "axis": {
            "values": [0, 200, 400, 600, 800, 1000, 1200, 1400],
            "labelExpr": "toString(datum.value)",
            "labelPadding": 19,
            "labelFlush": false,
            "labelOverlap": false
          }
        },
        "y": {
          "field": "y",
          "type": "quantitative",
          "scale": {"domain": [-30, 40], "nice": false, "zero": false},
          "axis": {
            "values": [-30, -20, -15, -10, 0, 10, 15, 20, 30, 40],
            "labelExpr": "datum.value == -15 ? '\u221215' : toString(datum.value)",
            "labelFont": {"condition": {"test": "abs(datum.value) == 15", "value": "Liberation Serif"}, "value": "Liberation Sans"},
            "labelFontSize": {"condition": {"test": "abs(datum.value) == 15", "value": 19}, "value": 14},
            "labelColor": {"condition": {"test": "abs(datum.value) == 15", "value": "#1a1a1a"}, "value": "#262626"},
            "labelPadding": 17,
            "labelFlush": false,
            "labelOverlap": false
          }
        },
        "detail": {"field": "s"}
      }
    },
    {
      "data": {"name": "levels"},
      "transform": [{"filter": "datum.k == 'upper'"}],
      "mark": {"type": "rule", "color": "#4646ff", "strokeWidth": 2.6},
      "encoding": {"y": {"field": "lvl", "type": "quantitative"}}
    },
    {
      "data": {"name": "means"},
      "mark": {"type": "rule", "strokeWidth": 4.6, "strokeCap": "butt"},
      "encoding": {
        "x": {"field": "x0", "type": "quantitative"},
        "x2": {"field": "x1"},
        "y": {"field": "m", "type": "quantitative"},
        "color": {
          "field": "g",
          "type": "nominal",
          "scale": {"domain": ["upper", "lower"], "range": ["#0000ff", "#ffff00"]},
          "legend": null
        }
      }
    }
  ]
}
